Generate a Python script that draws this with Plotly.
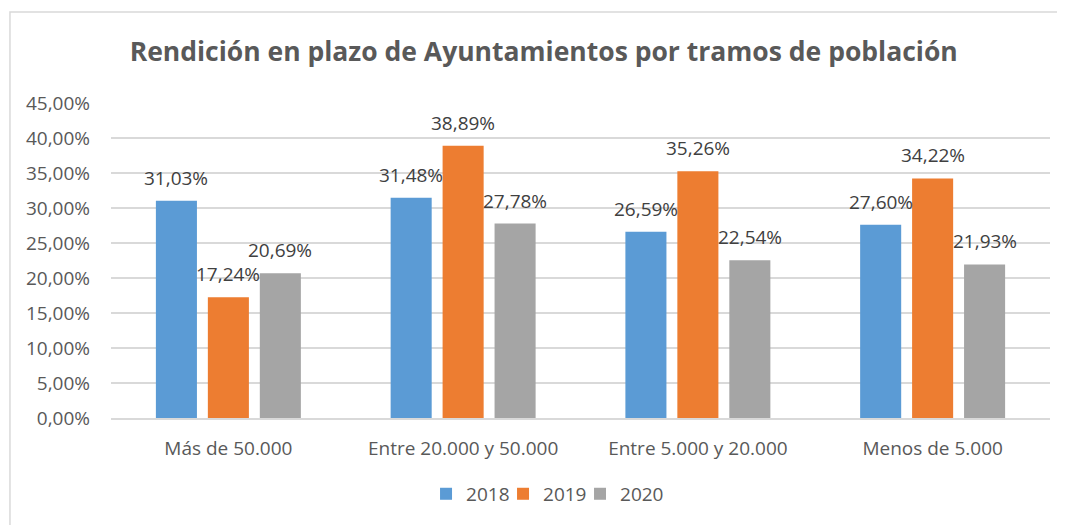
import plotly.graph_objects as go

categories = ["Más de 50.000", "Entre 20.000 y 50.000", "Entre 5.000 y 20.000", "Menos de 5.000"]
series_names = ["2018", "2019", "2020"]
values_2018 = [0.3103, 0.3148, 0.2659, 0.2760]
values_2019 = [0.1724, 0.3889, 0.3526, 0.3422]
values_2020 = [0.2069, 0.2778, 0.2254, 0.2193]
colors = ["#5B9BD5", "#ED7D31", "#A5A5A5"]

FONT = "Open Sans"
FS = 19
legend_ids = ["legend", "legend2", "legend3"]
legend_x = [0.3355, 0.4175, 0.4995]

fig = go.Figure()
all_series = [values_2018, values_2019, values_2020]
for i, (name, vals, col) in enumerate(zip(series_names, all_series, colors)):
    fig.add_trace(go.Bar(
        x=categories, y=vals, name=name, legend=legend_ids[i],
        marker=dict(color=col, line=dict(width=0)),
    ))
    for cat, v in zip(categories, vals):
        fig.add_annotation(
            x=cat, y=v, xref="x", yref="y",
            text=f"{v * 100:.2f}%".replace(".", ","),
            showarrow=False, xshift=(i - 1) * 52, yanchor="bottom", yshift=8,
            font=dict(family=FONT, size=FS, color="#404040"),
        )

legend_style = dict(orientation="h", xanchor="left", y=-0.241, yanchor="middle",
                    font=dict(family=FONT, size=FS, color="#595959"), itemwidth=30,
                    bgcolor="rgba(0,0,0,0)")
fig.update_layout(
    width=1065, height=525,
    margin=dict(l=103, r=23, t=95, b=115),
    paper_bgcolor="white", plot_bgcolor="white",
    separators=",.",
    barmode="group", bargap=0.336, bargroupgap=0.21,
    title=dict(text="<b>Rendición en plazo de Ayuntamientos por tramos de población</b>",
               x=0.503, xanchor="center", y=0.916, yanchor="middle",
               font=dict(family=FONT, size=26.5, color="#595959")),
    font=dict(family=FONT, size=FS, color="#595959"),
    legend=dict(x=legend_x[0], **legend_style),
    legend2=dict(x=legend_x[1], **legend_style),
    legend3=dict(x=legend_x[2], **legend_style),
    showlegend=True,
)
fig.update_yaxes(range=[0, 0.45], dtick=0.05, tickformat=".2%",
                 showgrid=True, gridcolor="#D9D9D9", gridwidth=1.5,
                 zeroline=False, showline=False, ticks="",
                 ticklabelstandoff=20,
                 tickfont=dict(family=FONT, size=FS, color="#595959"))
fig.update_xaxes(showline=True, linecolor="#D9D9D9", linewidth=1.5, ticks="",
                 ticklabelstandoff=12,
                 tickfont=dict(family=FONT, size=FS, color="#595959"))
fig.add_shape(type="rect", xref="paper", yref="paper",
              x0=-0.1076, x1=1.2, y0=-0.5, y1=1.289,
              line=dict(color="#D9D9D9", width=1.5), fillcolor="rgba(0,0,0,0)", layer="below")
fig.write_html("out.html")
